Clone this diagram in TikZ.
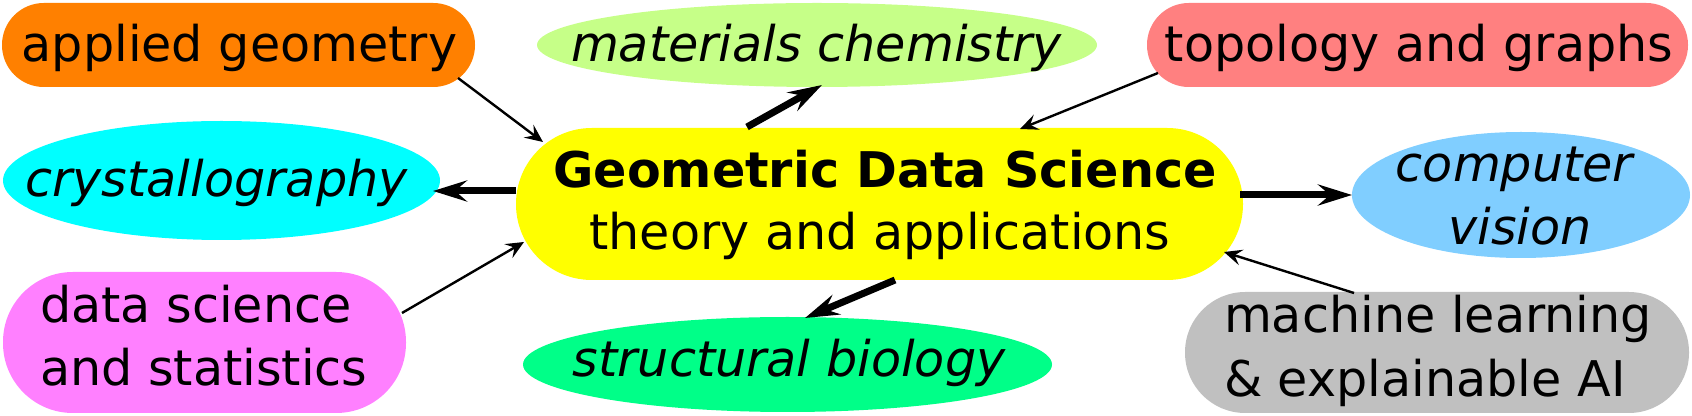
\documentclass[tikz,border=0pt]{standalone}
\usepackage{fontspec}
\setmainfont{DejaVu Sans}
\usetikzlibrary{arrows.meta,shapes.geometric}
\definecolor{cOrange}{RGB}{255,128,0}
\definecolor{cLime}{RGB}{198,255,136}
\definecolor{cSalmon}{RGB}{255,128,128}
\definecolor{cCyan}{RGB}{0,255,255}
\definecolor{cYellow}{RGB}{255,255,0}
\definecolor{cSky}{RGB}{128,206,255}
\definecolor{cPink}{RGB}{255,128,255}
\definecolor{cSpring}{RGB}{0,255,136}
\definecolor{cGrey}{RGB}{192,192,192}
\begin{document}
\begin{tikzpicture}[x=0.5pt,y=-0.5pt,
  blob/.style={draw=none, inner sep=0pt, outer sep=0pt},
  pill/.style={blob, rectangle, rounded corners=#1},
  oval/.style={blob, ellipse},
  lbl/.style={inner sep=0pt, outer sep=0pt, font=\fontsize{24.6pt}{31.5pt}\selectfont},
  ilbl/.style={lbl, font=\fontsize{24.6pt}{31.5pt}\selectfont\itshape},
  blbl/.style={lbl, font=\fontsize{24.6pt}{31.5pt}\selectfont\bfseries},
  weak/.style={line width=1.2pt, -{Stealth[length=9pt,width=8pt,inset=3.5pt]}},
  strong/.style={line width=3.5pt, -{Stealth[length=17pt,width=10.5pt,inset=6pt]}},
]
\useasboundingbox (0,0) rectangle (1692,416);

% shapes
\node[pill=20.9pt, fill=cOrange, minimum width=236.5pt, minimum height=42pt] (geo) at (238.5,45) {};
\node[oval, fill=cLime, minimum width=280pt, minimum height=42pt] (mat) at (817,45) {};
\node[pill=20.9pt, fill=cSalmon, minimum width=270.5pt, minimum height=42pt] (top) at (1417.5,45) {};
\node[oval, fill=cCyan, minimum width=218.5pt, minimum height=59.5pt] (cry) at (221.5,180.5) {};
\node[pill=37.9pt, fill=cYellow, minimum width=363.5pt, minimum height=76pt] (core) at (879.5,204) {};
\node[oval, fill=cSky, minimum width=169pt, minimum height=63pt] (vis) at (1521,195) {};
\node[pill=34.9pt, fill=cPink, minimum width=201.5pt, minimum height=70.5pt] (dss) at (204.5,342.5) {};
\node[oval, fill=cSpring, minimum width=264.5pt, minimum height=47.5pt] (bio) at (787.5,364.5) {};
\node[pill=30.1pt, fill=cGrey, minimum width=252pt, minimum height=60.5pt] (ml) at (1437,352.5) {};

% texts
\node[lbl, anchor=base] (tgeo) at (239.5,62) {applied geometry};
\node[ilbl, anchor=base] (tmat) at (816.5,62) {materials chemistry};
\node[lbl, anchor=base] (ttop) at (1419,62) {topology and graphs};
\node[ilbl, anchor=base] (tcry) at (216.5,197) {crystallography};
\node[blbl, anchor=base] (tcore1) at (885,188) {Geometric Data Science};
\node[lbl, anchor=base] (tcore2) at (880,250) {theory and applications};
\node[ilbl, anchor=base] (tvis1) at (1514.5,182) {computer};
\node[ilbl, anchor=base] (tvis2) at (1520,245) {vision};
\node[lbl, anchor=base west] (tdss1) at (40,323) {data science};
\node[lbl, anchor=base west] (tdss2) at (40,386) {and statistics};
\node[ilbl, anchor=base] (tbio) at (789,377) {structural biology};
\node[lbl, anchor=base west] (tml1) at (1224,333) {machine learning};
\node[lbl, anchor=base west] (tml2) at (1224,397) {\& explainable AI};

% connectors
\draw[weak] ([shift={(219.5,33)}]geo.center) -- ([shift={(-336.5,-62)}]core.center);
\draw[strong] ([shift={(-132.5,-77)}]core.center) -- ([shift={(5,40)}]mat.center);
\draw[weak] ([shift={(-259.5,28)}]top.center) -- ([shift={(140.5,-75)}]core.center);
\draw[strong] ([shift={(-363.5,-13)}]core.center) -- ([shift={(211.5,10.5)}]cry.center);
\draw[strong] ([shift={(360.5,-9)}]core.center) -- ([shift={(-169,0)}]vis.center);
\draw[weak] ([shift={(197.5,-29.5)}]dss.center) -- ([shift={(-355.5,38)}]core.center);
\draw[strong] ([shift={(15.5,76)}]core.center) -- ([shift={(17.5,-46.5)}]bio.center);
\draw[weak] ([shift={(-83,-59.5)}]ml.center) -- ([shift={(344.5,48)}]core.center);
\end{tikzpicture}
\end{document}
